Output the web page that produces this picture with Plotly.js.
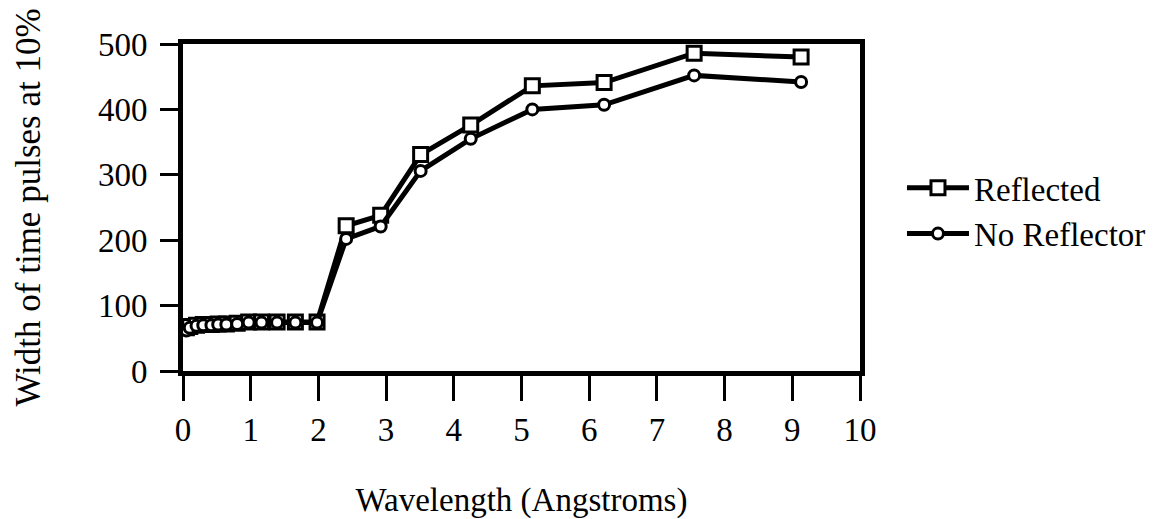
<!DOCTYPE html>
<html>
<head>
<meta charset="utf-8">
<script src="https://cdn.plot.ly/plotly-3.0.1.min.js"></script>
<style>html,body{margin:0;padding:0;background:#fff;}#chart{width:1163px;height:519px;}</style>
</head>
<body>
<div id="chart"></div>
<script>
const wavelength = [0.05, 0.1, 0.2, 0.3, 0.42, 0.52, 0.64, 0.8, 0.97, 1.16, 1.39, 1.66, 1.98, 2.41, 2.92, 3.51, 4.25, 5.16, 6.22, 7.55, 9.13];
const reflected = [66, 68, 70, 71, 71, 72, 72, 73, 75, 75, 75, 75, 75, 222, 238, 331, 376, 436, 441, 486, 480];
const noReflector = [62, 66, 69, 70, 70, 71, 71, 72, 74, 74, 74, 74, 74, 202, 221, 306, 355, 400, 407, 452, 442];
const xTicks = [0, 1, 2, 3, 4, 5, 6, 7, 8, 9, 10];
const yTicks = [0, 100, 200, 300, 400, 500];

const font = {family: '"Liberation Serif", "Times New Roman", serif', color: '#000'};

const traces = [
  {x: wavelength, y: reflected, name: 'Reflected', type: 'scatter', mode: 'lines+markers',
   line: {color: '#000', width: 5},
   marker: {symbol: 'square', size: 14, color: '#fff', line: {color: '#000', width: 3}}},
  {x: wavelength, y: noReflector, name: 'No Reflector', type: 'scatter', mode: 'lines+markers',
   line: {color: '#000', width: 5},
   marker: {symbol: 'circle', size: 11, color: '#fff', line: {color: '#000', width: 3}}}
];

const layout = {
  width: 1163, height: 519,
  margin: {l: 183, r: 299, t: 44, b: 148},
  paper_bgcolor: '#fff', plot_bgcolor: '#fff',
  font: Object.assign({size: 32}, font),
  showlegend: true,
  legend: {x: 1.062, y: 0.49, xanchor: 'left', yanchor: 'middle', itemwidth: 62,
           font: Object.assign({size: 33}, font), bgcolor: 'rgba(0,0,0,0)'},
  xaxis: {
    range: [0, 10], tickvals: xTicks, ticktext: xTicks.map(String),
    showgrid: false, zeroline: false, showline: true, linewidth: 5, linecolor: '#000', mirror: true,
    ticks: 'outside', ticklen: 25, tickwidth: 3, tickcolor: '#000',
    tickfont: Object.assign({size: 33}, font),
    title: {text: 'Wavelength (Angstroms)', font: Object.assign({size: 33}, font), standoff: 44}
  },
  yaxis: {
    range: [0, 500], tickvals: yTicks, ticktext: yTicks.map(String),
    showgrid: false, zeroline: false, showline: true, linewidth: 5, linecolor: '#000', mirror: true,
    ticks: 'outside', ticklen: 18, tickwidth: 3, tickcolor: '#000',
    ticklabelstandoff: 6,
    tickfont: Object.assign({size: 33}, font),
    title: {text: 'Width of time pulses at 10%', font: Object.assign({size: 35}, font), standoff: 48}
  }
};

Plotly.newPlot('chart', traces, layout, {staticPlot: true, displayModeBar: false});
</script>
</body>
</html>
